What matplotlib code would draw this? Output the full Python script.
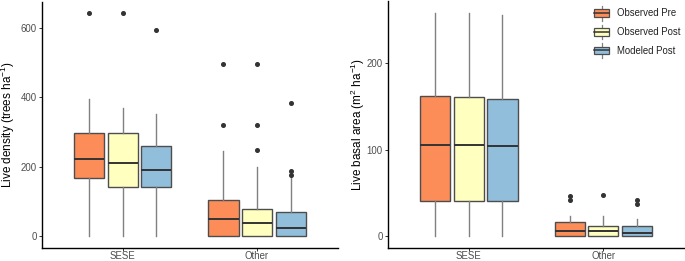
import matplotlib
matplotlib.use("Agg")
import matplotlib.pyplot as plt
from matplotlib.legend_handler import HandlerBase
from matplotlib.patches import Rectangle
from matplotlib.lines import Line2D

plt.rcParams['font.family'] = ['Liberation Sans', 'DejaVu Sans']
plt.rcParams['mathtext.default'] = 'regular'

groups = ["SESE", "Other"]
series = ["Observed Pre", "Observed Post", "Modeled Post"]
colors = ["#FC8D59", "#FFFFBF", "#91BFDB"]

# Live density: [whislo, q1, med, q3, whishi], fliers  (per group, per series)
dens_stats = {
    "SESE": [[0, 167, 222, 296, 395], [0, 141, 211, 296, 370], [0, 141, 191, 261, 352]],
    "Other": [[0, 0, 49, 104, 246], [0, 0, 37, 79, 199], [0, 0, 23, 69, 171]],
}
dens_fliers = {
    "SESE": [[643], [643], [593]],
    "Other": [[495, 321], [495, 321, 247], [383, 187, 176]],
}
# Live basal area
ba_stats = {
    "SESE": [[0, 41, 105, 162, 258], [0, 41, 105, 161, 258], [0, 41, 104, 158, 255]],
    "Other": [[0, 0, 6, 16, 24], [0, 0, 6, 11.4, 24], [0, 0, 3.3, 11.7, 20]],
}
ba_fliers = {
    "SESE": [[], [], []],
    "Other": [[46, 42.4], [47.4], [42, 37.4]],
}

EDGE = "#4d4d4d"
WHISK = "#808080"
MED = "#333333"
W, H = 685, 261


def draw(ax, stats, fliers, ylim, yticks, ylabel, label_x):
    offsets = [-0.25, 0.0, 0.25]
    for gi, g in enumerate(groups):
        for si in range(3):
            lo, q1, med, q3, hi = stats[g][si]
            d = dict(whislo=lo, q1=q1, med=med, q3=q3, whishi=hi, fliers=fliers[g][si])
            ax.bxp([d], positions=[gi + 1 + offsets[si]], widths=0.225, patch_artist=True,
                   showcaps=False,
                   boxprops=dict(facecolor=colors[si], edgecolor=EDGE, linewidth=1.0),
                   whiskerprops=dict(color=WHISK, linewidth=1.0),
                   medianprops=dict(color=MED, linewidth=1.4),
                   flierprops=dict(marker='o', markersize=2.6, markerfacecolor='#333333',
                                   markeredgecolor='#333333'))
    ax.set_xlim(0.4, 2.6)
    ax.set_ylim(*ylim)
    ax.set_xticks([1, 2])
    ax.set_xticklabels(groups)
    ax.set_yticks(yticks)
    ax.set_yticklabels([str(t) for t in yticks])
    for s in ["top", "right"]:
        ax.spines[s].set_visible(False)
    for s in ["left", "bottom"]:
        ax.spines[s].set_linewidth(1.0)
        ax.spines[s].set_color("black")
    ax.tick_params(axis='both', length=2.2, width=0.7, color="#333333", labelsize=6.9,
                   labelcolor="#4d4d4d", pad=1.5)
    ax.tick_params(axis='x', pad=0.6)
    ax.set_ylabel(ylabel, fontsize=8.5)
    ax.yaxis.set_label_coords(label_x, 0.5)


class BoxHandler(HandlerBase):
    def create_artists(self, legend, orig_handle, xdescent, ydescent, width, height, fontsize, trans):
        fc = orig_handle.get_facecolor()
        x0 = -xdescent
        cx = x0 + width / 2
        y0 = -ydescent + height * 0.05
        y1 = -ydescent + height * 0.95
        rect = Rectangle((x0, y0), width, y1 - y0, facecolor=fc,
                         edgecolor=EDGE, linewidth=0.9, transform=trans)
        ym = (y0 + y1) / 2
        medl = Line2D([x0, x0 + width], [ym, ym], color=MED, linewidth=1.1, transform=trans)
        wt = Line2D([cx, cx], [y1, y1 + 2.5], color=WHISK, linewidth=0.9, transform=trans)
        wb = Line2D([cx, cx], [y0, y0 - 2.5], color=WHISK, linewidth=0.9, transform=trans)
        return [wt, wb, rect, medl]


fig = plt.figure(figsize=(W / 100, H / 100), dpi=100)
ax1 = fig.add_axes([42 / W, (H - 247.5) / H, (337.7 - 42) / W, 246 / H])
ax2 = fig.add_axes([388 / W, (H - 247.5) / H, (684 - 388) / W, 246 / H])

draw(ax1, dens_stats, dens_fliers, (-32, 675), [0, 200, 400, 600],
     "Live density (trees ha$^{-1}$)", (17.5 - 42) / 295.7)
draw(ax2, ba_stats, ba_fliers, (-12.9, 270.9), [0, 100, 200],
     "Live basal area (m$^{2}$ ha$^{-1}$)", (367 - 388) / 296)

handles = [Rectangle((0, 0), 1, 1, facecolor=c) for c in colors]
leg = fig.legend(handles, series, loc='upper left',
                 bbox_to_anchor=(594.3 / W, 1 - 8.5 / H),
                 frameon=False, fontsize=6.9, handler_map={Rectangle: BoxHandler()},
                 handlelength=1.55, handleheight=1.0, labelspacing=0.9, handletextpad=0.85,
                 borderpad=0, borderaxespad=0)
for t in leg.get_texts():
    t.set_color("#222222")

fig.savefig("out.png", dpi=100)
